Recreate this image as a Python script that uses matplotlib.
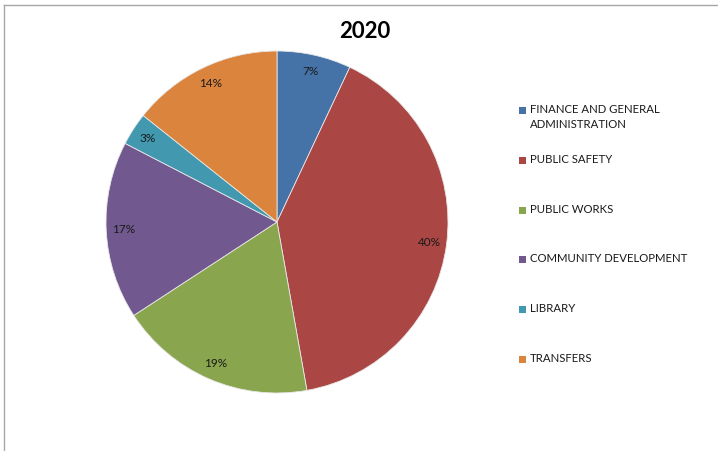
import matplotlib
matplotlib.use("Agg")
import matplotlib.pyplot as plt
from matplotlib.patches import Rectangle
from matplotlib.lines import Line2D

# Budget share by department, 2020
departamentos = ["FINANCE AND GENERAL\nADMINISTRATION", "PUBLIC SAFETY", "PUBLIC WORKS",
                 "COMMUNITY DEVELOPMENT", "LIBRARY", "TRANSFERS"]
porcentajes = [7.0, 40.2, 18.6, 16.8, 3.1, 14.3]
colores = ["#4572A7", "#AA4643", "#89A54E", "#71588F", "#4198AF", "#DB843D"]

plt.rcParams['font.family'] = ['Lato', 'DejaVu Sans']

W, H = 718, 451
fig = plt.figure(figsize=(W / 100, H / 100), dpi=100)

# marco gris (solo arriba e izquierda se ven)
fig.add_artist(Line2D([4 / W, 4 / W], [0, 1 - 5 / H], transform=fig.transFigure,
                      color="#a6a6a6", lw=1))
fig.add_artist(Line2D([4 / W, 1], [1 - 5 / H, 1 - 5 / H], transform=fig.transFigure,
                      color="#a6a6a6", lw=1))

cx, cy, r = 277, 222, 171
ax = fig.add_axes([(cx - r) / W, (H - cy - r) / H, 2 * r / W, 2 * r / H])
ax.pie(porcentajes, colors=colores, startangle=90, counterclock=False,
       autopct='%.0f%%', pctdistance=0.9,
       wedgeprops=dict(edgecolor="#e8e8e8", linewidth=0.6),
       textprops=dict(fontsize=8.5, color="#1a1a1a"))
ax.set_xlim(-1, 1)
ax.set_ylim(-1, 1)
ax.set_aspect('equal')
ax.axis('off')

fig.text(365 / W, 1 - 31 / H, "2020", ha='center', va='center',
         fontsize=16, fontweight='bold', color='black')

# leyenda hecha a mano
for i, (nombre, color) in enumerate(zip(departamentos, colores)):
    y = 110 + i * 49.8
    fig.add_artist(Rectangle((519 / W, 1 - (y + 4) / H), 7 / W, 7 / H,
                             transform=fig.transFigure, facecolor=color, edgecolor='none'))
    fig.text(530 / W, 1 - (y - 6) / H, nombre, ha='left', va='top',
             fontsize=8.2, color="#1a1a1a", linespacing=1.45)

fig.savefig("out.png", dpi=100)
